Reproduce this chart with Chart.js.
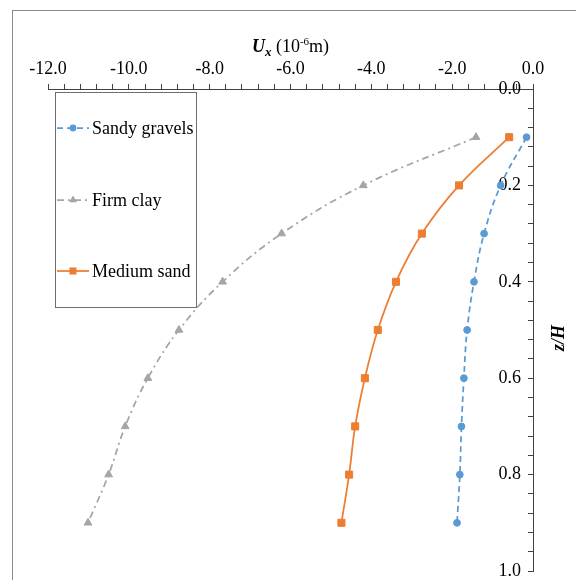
<!DOCTYPE html>
<html>
<head>
<meta charset="utf-8">
<script src="https://cdn.jsdelivr.net/npm/chart.js@4.4.1/dist/chart.umd.min.js"></script>
<style>
  html, body { margin: 0; padding: 0; background: #fff; }
  #wrap { width: 576px; height: 580px; }
</style>
</head>
<body>
<div id="wrap"><canvas id="chart" width="576" height="580"></canvas></div>
<script>
// values
const depths = [0.1, 0.2, 0.3, 0.4, 0.5, 0.6, 0.7, 0.8, 0.9];
const sandyGravels = [-0.16, -0.80, -1.21, -1.46, -1.63, -1.71, -1.77, -1.81, -1.88];
const firmClay = [-1.41, -4.20, -6.22, -7.68, -8.76, -9.53, -10.09, -10.50, -11.01];
const mediumSand = [-0.59, -1.83, -2.75, -3.39, -3.84, -4.16, -4.40, -4.55, -4.74];
const seriesNames = ['Sandy gravels', 'Firm clay', 'Medium sand'];
const xMajorTicks = [-12, -10, -8, -6, -4, -2, 0];
const yMajorTicks = [0, 0.2, 0.4, 0.6, 0.8, 1.0];

const serif = '"Liberation Serif", "Times New Roman", serif';

function isMajor(v, list) {
    return list.some(t => Math.abs(t - v) < 1e-6);
}

function toPoints(values) {
    return depths.map((d, i) => ({ x: values[i], y: d }));
}

// frame, axis titles and the boxed legend
const decorations = {
    id: 'decorations',
    beforeDraw(chart) {
        const ctx = chart.ctx;
        ctx.save();
        ctx.fillStyle = '#fff';
        ctx.fillRect(0, 0, chart.width, chart.height);
        ctx.strokeStyle = '#8a8a8a';
        ctx.lineWidth = 1;
        ctx.strokeRect(12.5, 10.5, 700, 700);
        ctx.restore();
    },
    afterDraw(chart) {
        const ctx = chart.ctx;
        const area = chart.chartArea;
        ctx.save();
        ctx.fillStyle = '#000';
        ctx.textBaseline = 'alphabetic';

        // x title: U_x (10^-6 m)
        const parts = [
            { t: 'U', f: 'italic bold 18px ' + serif, dy: 0 },
            { t: 'x', f: 'italic bold 13px ' + serif, dy: 4 },
            { t: ' (10', f: '18px ' + serif, dy: 0 },
            { t: '-6', f: '11px ' + serif, dy: -7 },
            { t: 'm)', f: '18px ' + serif, dy: 0 }
        ];
        let total = 0;
        parts.forEach(p => { ctx.font = p.f; p.w = ctx.measureText(p.t).width; total += p.w; });
        let x = (area.left + area.right) / 2 - total / 2;
        parts.forEach(p => {
            ctx.font = p.f;
            ctx.fillText(p.t, x, 52 + p.dy);
            x += p.w;
        });

        // y title
        ctx.save();
        ctx.translate(559, 338);
        ctx.rotate(-Math.PI / 2);
        ctx.font = 'italic bold 18px ' + serif;
        ctx.textAlign = 'center';
        ctx.textBaseline = 'middle';
        ctx.fillText('z/H', 0, 0);
        ctx.restore();

        // legend box
        ctx.fillStyle = '#fff';
        ctx.fillRect(55.5, 92.5, 141, 215);
        ctx.strokeStyle = '#6e6e6e';
        ctx.lineWidth = 1;
        ctx.strokeRect(55.5, 92.5, 141, 215);

        const rowY = [128, 200, 271];
        chart.data.datasets.forEach((ds, i) => {
            const y = rowY[i];
            ctx.save();
            ctx.strokeStyle = ds.borderColor;
            ctx.lineWidth = ds.borderWidth;
            ctx.setLineDash(ds.borderDash || []);
            ctx.beginPath();
            ctx.moveTo(57, y);
            ctx.lineTo(89, y);
            ctx.stroke();
            ctx.setLineDash([]);
            ctx.fillStyle = ds.backgroundColor;
            const mx = 73;
            const r = ds.pointRadius;
            ctx.beginPath();
            if (ds.pointStyle === 'circle') {
                ctx.arc(mx, y, r, 0, Math.PI * 2);
            } else if (ds.pointStyle === 'triangle') {
                ctx.moveTo(mx, y - r);
                ctx.lineTo(mx + r * 0.866, y + r * 0.5);
                ctx.lineTo(mx - r * 0.866, y + r * 0.5);
                ctx.closePath();
            } else {
                const s = r * Math.SQRT1_2;
                ctx.rect(mx - s, y - s, 2 * s, 2 * s);
            }
            ctx.fill();
            ctx.restore();

            ctx.fillStyle = '#000';
            ctx.font = '18px ' + serif;
            ctx.textBaseline = 'middle';
            ctx.fillText(ds.label, 92, y + 1);
        });
        ctx.restore();
    }
};

const ctx = document.getElementById('chart').getContext('2d');
new Chart(ctx, {
    type: 'line',
    data: {
        datasets: [
            {
                label: seriesNames[0],
                data: toPoints(sandyGravels),
                borderColor: '#5B9BD5',
                backgroundColor: '#5B9BD5',
                borderWidth: 1.75,
                borderDash: [6, 4],
                pointStyle: 'circle',
                pointRadius: 3.4,
                pointBorderWidth: 1,
                tension: 0.4
            },
            {
                label: seriesNames[1],
                data: toPoints(firmClay),
                borderColor: '#A5A5A5',
                backgroundColor: '#A5A5A5',
                borderWidth: 1.75,
                borderDash: [7, 4, 2, 4],
                pointStyle: 'triangle',
                pointRadius: 4.5,
                pointBorderWidth: 1,
                tension: 0.4
            },
            {
                label: seriesNames[2],
                data: toPoints(mediumSand),
                borderColor: '#ED7D31',
                backgroundColor: '#ED7D31',
                borderWidth: 1.75,
                pointStyle: 'rect',
                pointRadius: 5,
                pointBorderWidth: 1,
                tension: 0.4
            }
        ]
    },
    options: {
        responsive: false,
        animation: false,
        events: [],
        layout: { padding: { left: 48, right: 0, top: 0, bottom: 9 } },
        plugins: {
            legend: { display: false },
            tooltip: { enabled: false }
        },
        scales: {
            x: {
                type: 'linear',
                position: 'top',
                min: -12,
                max: 0,
                ticks: {
                    stepSize: 0.4,
                    autoSkip: false,
                    maxRotation: 0,
                    padding: 4,
                    color: '#000',
                    font: { family: serif, size: 18 },
                    callback: v => isMajor(v, xMajorTicks) ? v.toFixed(1) : ''
                },
                grid: { drawOnChartArea: false, tickLength: 5, color: '#404040', lineWidth: 1 },
                border: { color: '#404040', width: 1 },
                afterFit: s => { s.height = 89; s.paddingLeft = 0; s.paddingRight = 0; }
            },
            y: {
                type: 'linear',
                position: 'right',
                min: 0,
                max: 1,
                reverse: true,
                ticks: {
                    stepSize: 0.04,
                    autoSkip: false,
                    mirror: true,
                    padding: -12,
                    color: '#000',
                    font: { family: serif, size: 18 },
                    callback: v => isMajor(v, yMajorTicks) ? v.toFixed(1) : ''
                },
                grid: { drawOnChartArea: false, tickLength: -5, color: '#404040', lineWidth: 1 },
                border: { color: '#404040', width: 1 },
                afterFit: s => { s.width = 43; s.paddingTop = 0; s.paddingBottom = 0; }
            }
        }
    },
    plugins: [decorations]
});
</script>
</body>
</html>
